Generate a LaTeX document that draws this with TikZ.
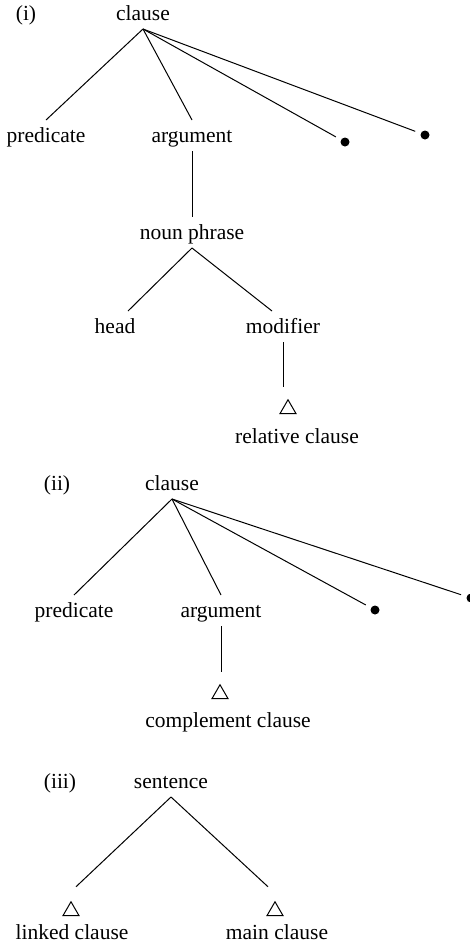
\documentclass[tikz,border=0pt]{standalone}
\usepackage{fontspec}
\setmainfont{Liberation Serif}
\usetikzlibrary{shapes.geometric}

\begin{document}
\begin{tikzpicture}[
    x=1pt, y=-1pt,
    word/.style   = {anchor=base, inner sep=0pt, text height=18pt, text depth=5pt,
                     outer sep=4pt, font=\fontsize{21.5}{24}\selectfont},
    tag/.style    = {anchor=base, inner sep=0pt, font=\fontsize{21.5}{24}\selectfont},
    blob/.style   = {circle, fill=black, inner sep=0pt, minimum size=9pt, outer sep=6pt},
    tri/.style    = {regular polygon, regular polygon sides=3, draw, inner sep=0pt,
                     minimum size=18.5pt, line width=1pt},
    branch/.style = {line width=1pt}
  ]
  \useasboundingbox (0,0) rectangle (470,945);

  % ── (i) ──────────────────────────────────────────────────────────────────
  \node[tag]  (lab1)  at (26, 20)   {(i)};
  \node[word] (cl1)   at (143, 20)  {clause};
  \node[word] (pred1) at (46, 142)  {predicate};
  \node[word] (arg1)  at (192, 142) {argument};
  \node[blob] (dotA)  at (345, 142) {};
  \node[blob] (dotB)  at (425, 135) {};
  \node[word] (np)    at (192, 239) {noun phrase};
  \node[word] (head)  at (115, 333) {head};
  \node[word] (mod)   at (283, 333) {modifier};
  \node[tri]  (triR)  at (288, 409) {};
  \node[word] (rel)   at (297, 443) {relative clause};

  \draw[branch] (cl1.south) -- (pred1.north);
  \draw[branch] (cl1.south) -- (arg1.north);
  \draw[branch] (cl1.south) -- (dotA);
  \draw[branch] (cl1.south) -- (dotB);
  \draw[branch] (arg1.south) -- (np.north);
  \draw[branch] (np.south) -- ([xshift=13pt]head.north);
  \draw[branch] (np.south) -- ([xshift=-11pt]mod.north);
  \draw[branch, shorten >=12pt] (mod.south) -- (mod.south |- triR.north);

  % ── (ii) ─────────────────────────────────────────────────────────────────
  \node[tag]  (lab2)  at (57, 490)  {(ii)};
  \node[word] (cl2)   at (172, 490) {clause};
  \node[word] (pred2) at (74, 617)  {predicate};
  \node[word] (arg2)  at (221, 617) {argument};
  \node[blob] (dotC)  at (375, 610) {};
  \node[blob] (dotD)  at (471, 598) {};
  \node[tri]  (triC)  at (220, 694) {};
  \node[word] (comp)  at (228, 727) {complement clause};

  \draw[branch] (cl2.south) -- (pred2.north);
  \draw[branch] (cl2.south) -- (arg2.north);
  \draw[branch] (cl2.south) -- (dotC);
  \draw[branch] (cl2.south) -- (dotD);
  \draw[branch, shorten >=12pt] (arg2.south) -- (arg2.south |- triC.north);

  % ── (iii) ────────────────────────────────────────────────────────────────
  \node[tag]  (lab3)  at (60, 788)  {(iii)};
  \node[word] (sent)  at (171, 788) {sentence};
  \node[tri]  (triL)  at (71, 911)  {};
  \node[tri]  (triM)  at (275, 911) {};
  \node[word] (link)  at (72, 939)  {linked clause};
  \node[word] (main)  at (277, 939) {main clause};

  \draw[branch] (sent.south) -- ([xshift=5pt, yshift=14pt]triL.north);
  \draw[branch] (sent.south) -- ([xshift=-7pt, yshift=14pt]triM.north);
\end{tikzpicture}
\end{document}
